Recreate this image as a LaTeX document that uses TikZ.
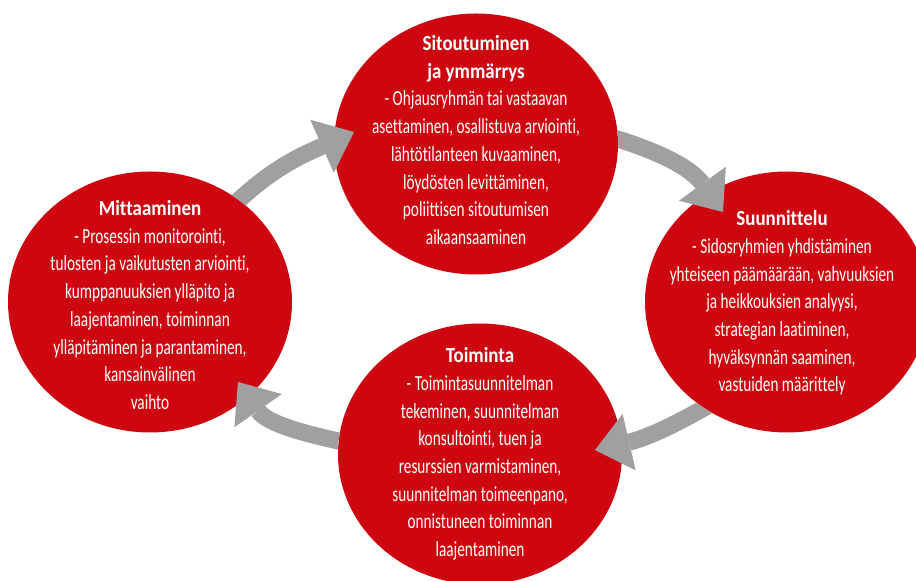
\documentclass[tikz,border=0pt]{standalone}
\usepackage{fontspec}
\newfontfamily\condfont[FakeStretch=0.71,Ligatures=NoCommon]{Carlito}
\newfontfamily\titlefont[FakeStretch=0.88,Ligatures=NoCommon]{Carlito}
\usetikzlibrary{arrows.meta,shapes.geometric,calc}
\definecolor{cred}{RGB}{206,6,16}
\definecolor{cgray}{RGB}{160,160,160}
\newcommand{\ttl}[1]{{\titlefont\bfseries #1}}
\begin{document}
\begin{tikzpicture}[x=1pt,y=1pt,
  disc/.style={ellipse, fill=cred, minimum width=284pt, minimum height=261pt, inner sep=0pt},
  disctext/.style={text=white, align=center, font=\condfont\fontsize{21.5}{27.7}\selectfont, inner sep=0pt},
  cyc/.style={draw=cgray, line width=17pt, -{Triangle[length=35pt,width=58pt,line width=0pt]}}]
\useasboundingbox (0,0) rectangle (916,581);
\node[disc] (T) at (476,437) {};
\node[disc] (L) at (150,279) {};
\node[disc] (R) at (787,279) {};
\node[disc] (B) at (480,127) {};
\coordinate (h1) at (354,449);
\coordinate (h2) at (723,369);
\coordinate (h3) at (595,131);
\coordinate (h4) at (238,199);
% arrow 1: L -> T
\begin{scope}
\clip (0,0) -- (0,581) -- (916,581) -- (916,0) -- cycle (L.center) ellipse [x radius=142pt, y radius=130.5pt];
\draw[cyc] ($(L.49)+(225:14)$) to[out=45,in=204] (h1);
\end{scope}
% arrow 2: T -> R
\begin{scope}
\clip (0,0) -- (0,581) -- (916,581) -- (916,0) -- cycle (T.center) ellipse [x radius=142pt, y radius=130.5pt];
\draw[cyc] ($(T.2)+(164:14)$) to[out=-16,in=126] (h2);
\end{scope}
% arrow 3: R -> B
\begin{scope}
\clip (0,0) -- (0,581) -- (916,581) -- (916,0) -- cycle (R.center) ellipse [x radius=142pt, y radius=130.5pt];
\draw[cyc] ($(R.232)+(30:14)$) to[out=210,in=13] (h3);
\end{scope}
% arrow 4: B -> L
\begin{scope}
\clip (0,0) -- (0,581) -- (916,581) -- (916,0) -- cycle (B.center) ellipse [x radius=142pt, y radius=130.5pt];
\draw[cyc] ($(B.175)+(-10:14)$) to[out=168,in=-55] (h4);
\end{scope}
\node[disctext] (Ttext) at (476,441) {\ttl{Sitoutuminen}\\\ttl{ja ymmärrys}\\- Ohjausryhmän tai vastaavan\\asettaminen, osallistuva arviointi,\\lähtötilanteen kuvaaminen,\\löydösten levittäminen,\\poliittisen sitoutumisen\\aikaansaaminen};
\node[disctext] (Ltext) at (150,276) {\ttl{Mittaaminen}\\- Prosessin monitorointi,\\tulosten ja vaikutusten arviointi,\\kumppanuuksien ylläpito ja\\laajentaminen, toiminnan\\ylläpitäminen ja parantaminen,\\kansainvälinen\\vaihto};
\node[disctext] (Rtext) at (782,278) {\ttl{Suunnittelu}\\- Sidosryhmien yhdistäminen\\yhteiseen päämäärään, vahvuuksien\\ja heikkouksien analyysi,\\strategian laatiminen,\\hyväksynnän saaminen,\\vastuiden määrittely};
\node[disctext] (Btext) at (480,127) {\ttl{Toiminta}\\- Toimintasuunnitelman\\tekeminen, suunnitelman\\konsultointi, tuen ja\\resurssien varmistaminen,\\suunnitelman toimeenpano,\\onnistuneen toiminnan\\laajentaminen};
\end{tikzpicture}
\end{document}
